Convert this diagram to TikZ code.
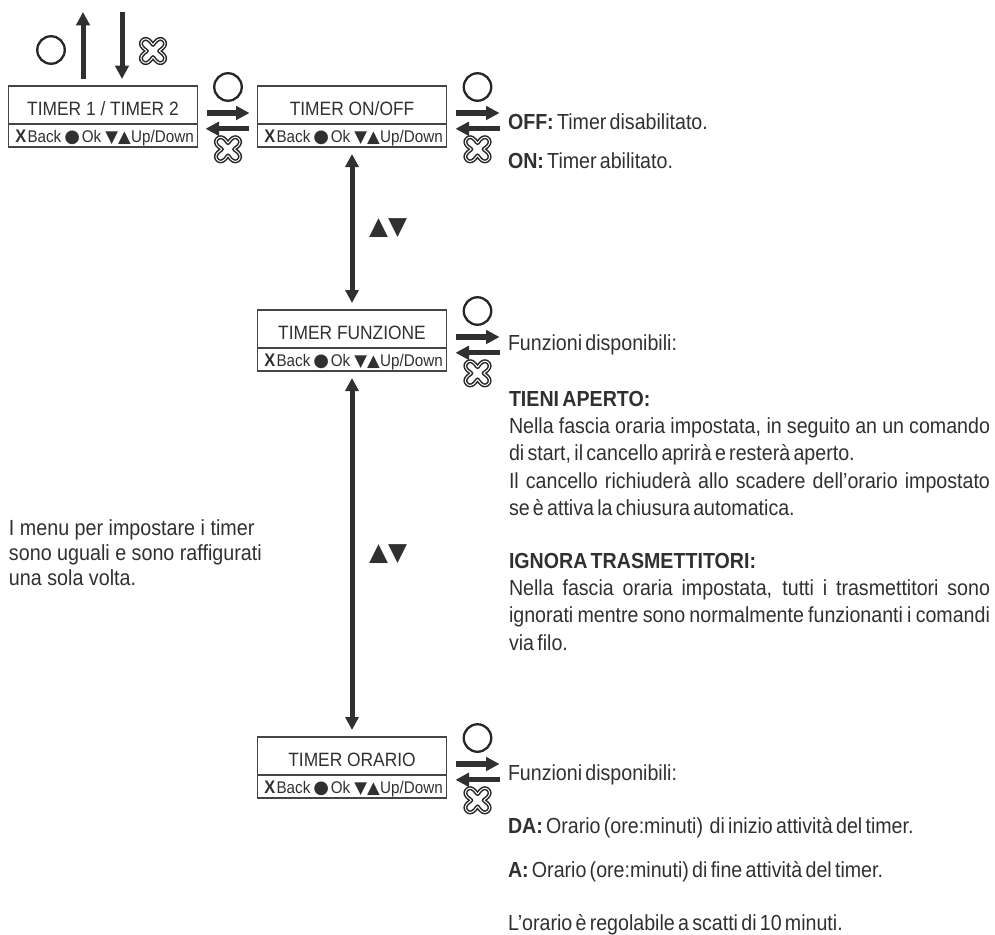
\documentclass[tikz,border=0pt]{standalone}
\usepackage{fontspec}
\setmainfont[FakeStretch=0.9]{Liberation Sans}
\newfontfamily\symfont{DejaVu Sans}
\usetikzlibrary{positioning,arrows.meta}
\definecolor{ink}{HTML}{303030}
\newcommand{\keyline}{\hspace{3.2pt}{\fontsize{18.2}{18}\selectfont\bfseries X}\hspace{1.2pt}Back\hspace{3pt}{\fontsize{18}{18}\symfont ●}\hspace{1.8pt}Ok\hspace{4pt}{\fontsize{16.6}{18}\symfont ▼▲}\hspace{0.4pt}Up/Down}
\newcommand{\tightwords}{\spaceskip=.15em plus 4em\relax}
\tikzset{
  titlebox/.style={draw=ink!90, line width=1.3pt, outer sep=0pt, inner sep=0pt, minimum width=189pt, minimum height=38pt,
    text height=24pt, text depth=4pt, font=\fontsize{19.3}{20}\selectfont, text=ink},
  footbox/.style={draw=ink!90, line width=1.3pt, outer sep=0pt, inner sep=0pt, minimum width=189pt, minimum height=22.4pt,
    text height=16.5pt, text depth=4.1pt, font=\fontsize{16.9}{18}\selectfont, text=ink},
  okbtn/.style={circle, draw=black!85, line width=2.3pt, inner sep=0pt, outer sep=0pt, minimum size=27.5pt},
  xbtn/.pic={\draw[draw=black!85, line width=1.5pt, double=white, double distance=1pt] plot[domain=0:356, samples=80, smooth cycle] (\x:{11.4-4.3*cos(4*\x)-0.7*cos(8*\x)});},
  movearrow/.style={draw=ink, line width=5.3pt, -{Triangle[length=13.5pt,width=13.5pt]}},
  bothways/.style={draw=ink, line width=5pt, {Triangle[length=13pt,width=13pt]}-{Triangle[length=13pt,width=13pt]}, shorten <=7pt, shorten >=7pt},
  note/.style={inner sep=0pt, outer sep=0pt, text=ink, anchor=base west, font=\fontsize{21.8}{27.3}\selectfont},
  updown/.style={inner sep=0pt, text=ink, font=\fontsize{24.7}{26}\symfont}
}
\begin{document}
\begin{tikzpicture}[x=1pt, y=-1pt]
  \useasboundingbox (0,0) rectangle (995,934);
  % menu boxes
  \node[titlebox] (timers) at (103,105) {TIMER 1 / TIMER 2};
  \node[footbox] (timersFoot) [below=0.6pt of timers] {\keyline};
  \node[titlebox] (onoff) [right=60pt of timers] {TIMER ON/OFF};
  \node[footbox] (onoffFoot) [below=0.6pt of onoff] {\keyline};
  \node[titlebox] (funzione) [below=163pt of onoffFoot] {TIMER FUNZIONE};
  \node[footbox] (funzioneFoot) [below=0.6pt of funzione] {\keyline};
  \node[titlebox] (orario) [below=366pt of funzioneFoot] {TIMER ORARIO};
  \node[footbox] (orarioFoot) [below=0.6pt of orario] {\keyline};
  % arrows going out of the column
  \coordinate (upEnd) at (83,12);
  \coordinate (downStart) at (122,12);
  \coordinate (onoffOut) at ([xshift=53pt,yshift=-8pt]onoff.east);
  \coordinate (onoffBack) at ([xshift=53pt,yshift=7pt]onoffFoot.east);
  \coordinate (funzioneOut) at ([xshift=53pt,yshift=-8pt]funzione.east);
  \coordinate (funzioneBack) at ([xshift=53pt,yshift=7pt]funzioneFoot.east);
  \coordinate (orarioOut) at ([xshift=53pt,yshift=-8pt]orario.east);
  \coordinate (orarioBack) at ([xshift=53pt,yshift=7pt]orarioFoot.east);
  \draw[movearrow, line width=5pt, shorten <=7pt] (timers.north -| upEnd) -- (upEnd);
  \draw[movearrow, line width=5pt, shorten >=7pt] (downStart) -- (timers.north -| downStart);
  \draw[movearrow, shorten <=9pt, shorten >=8pt] ([yshift=-8pt]timers.east) -- ([yshift=-8pt]onoff.west);
  \draw[movearrow, shorten <=9pt, shorten >=8pt] ([yshift=7pt]onoffFoot.west) -- ([yshift=7pt]timersFoot.east);
  \draw[movearrow, shorten <=9pt] ([yshift=-8pt]onoff.east) -- (onoffOut);
  \draw[movearrow, shorten >=9pt] (onoffBack) -- ([yshift=7pt]onoffFoot.east);
  \draw[movearrow, shorten <=9pt] ([yshift=-8pt]funzione.east) -- (funzioneOut);
  \draw[movearrow, shorten >=9pt] (funzioneBack) -- ([yshift=7pt]funzioneFoot.east);
  \draw[movearrow, shorten <=9pt] ([yshift=-8pt]orario.east) -- (orarioOut);
  \draw[movearrow, shorten >=9pt] (orarioBack) -- ([yshift=7pt]orarioFoot.east);
  \draw[bothways] (onoffFoot) -- (funzione);
  \draw[bothways] (funzioneFoot) -- (orario);
  % buttons
  \node[okbtn] (okTop) at (51,50) {};
  \node[okbtn] (okTimers) at ([xshift=30.5pt,yshift=18pt]timers.east) {};
  \node[okbtn] (okOnoff) at ([xshift=31pt,yshift=18pt]onoff.east) {};
  \node[okbtn] (okFunzione) at ([xshift=31pt,yshift=18pt]funzione.east) {};
  \node[okbtn] (okOrario) at ([xshift=31pt,yshift=18pt]orario.east) {};
  \pic at (153,51) {xbtn};
  \pic at ([xshift=30.5pt,yshift=-13.5pt]timersFoot.east) {xbtn};
  \pic at ([xshift=31pt,yshift=-13.5pt]onoffFoot.east) {xbtn};
  \pic at ([xshift=31pt,yshift=-13.5pt]funzioneFoot.east) {xbtn};
  \pic at ([xshift=31pt,yshift=-13.5pt]orarioFoot.east) {xbtn};
  % up and down keys
  \node[updown] (keysOne) at (388,228) {▲▼};
  \node[updown] (keysTwo) at (388,554) {▲▼};
  % notes
  \node[note] (offText) at (508,129) {\tightwords\textbf{OFF:} Timer disabilitato.};
  \node[note] (onText) at (508,168) {\tightwords\textbf{ON:} Timer abilitato.};
  \node[note] (funzText) at (508,350) {\tightwords Funzioni disponibili:};
  \node[note, anchor=north west, text width=481pt, align=justify] (apertoText) at (509,391) {\tightwords\textbf{TIENI APERTO:}\newline
    Nella fascia oraria impostata, in seguito an un comando\linebreak
    di start, il cancello aprirà e resterà aperto.\newline
    Il cancello richiuderà allo scadere dell’orario impostato\linebreak
    se è attiva la chiusura automatica.};
  \node[note, anchor=north west, text width=481pt, align=justify] (ignoraText) at (509,553) {\tightwords\textbf{IGNORA TRASMETTITORI:}\newline
    Nella fascia oraria impostata, tutti i trasmettitori sono\linebreak
    ignorati mentre sono normalmente funzionanti i comandi\linebreak
    via filo.};
  \node[note] (orarioText) at (508,780) {\tightwords Funzioni disponibili:};
  \node[note] (daText) at (508,833) {\tightwords\textbf{DA:} Orario (ore:minuti) \ di inizio attività del timer.};
  \node[note] (aText) at (508,877) {\tightwords\textbf{A:} Orario (ore:minuti) di fine attività del timer.};
  \node[note] (scattiText) at (508,930) {\tightwords L’orario è regolabile a scatti di 10 minuti.};
  \node[note, anchor=north west, align=left, font=\fontsize{21.9}{25}\selectfont] (menuText) at (9,520) {I menu per impostare i timer\\sono uguali e sono raffigurati\\una sola volta.};
\end{tikzpicture}
\end{document}
